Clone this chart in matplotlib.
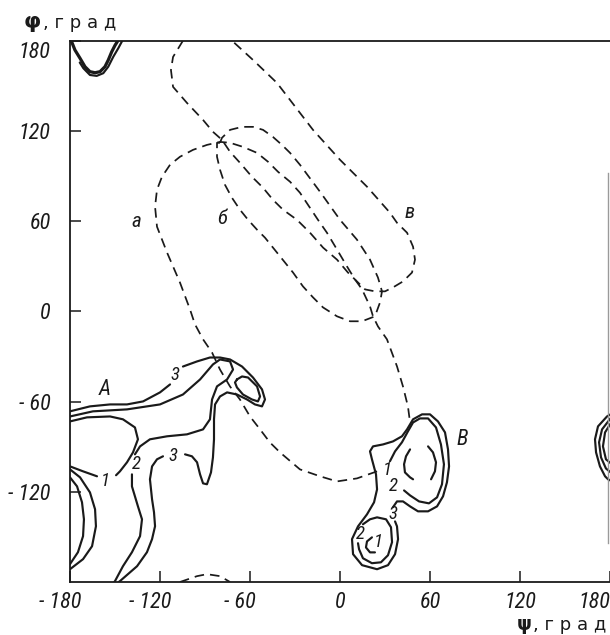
import matplotlib
matplotlib.use("Agg")
import matplotlib.pyplot as plt
from matplotlib import font_manager
from matplotlib.transforms import ScaledTranslation

# pick a condensed family that really has an italic face
_ital = {}
for f in font_manager.fontManager.ttflist:
    if f.style in ('italic', 'oblique'):
        _ital.setdefault(f.name, []).append((f.stretch, f.fname))
NARROW = ['DejaVu Sans']
for cand in ['Liberation Sans Narrow', 'DejaVu Sans Condensed', 'Roboto Condensed', 'Open Sans Condensed']:
    if cand in _ital:
        NARROW = [cand, 'DejaVu Sans']
        break

# ---------------- data (degrees) ----------------
tick_values = [-180, -120, -60, 0, 60, 120, 180]
x_tick_labels = ['- 180', '- 120', '- 60', '0', '60', '120', '180']
y_tick_values = [-120, -60, 0, 60, 120, 180]
y_tick_labels = ['- 120', '- 60', '0', '60', '120', '180']

# dashed loop "в"
loop_v_phi = [-104.7, -111.3, -112.7, -111.3, -102, -91.3, -84.7, -78.7, -73.3, -66.7, -58.7, -51.3, -44.7, -38,
              -28.7, -20, -11.3, -2, 5.3, 11.3, 16.7, 23.3, 30, 35.3, 42, 48, 50, 48.7, 44.7, 38, 33.3, 18, 0,
              -18, -26.7, -42, -58, -72]
loop_v_psi = [180, 169.2, 160.5, 149.3, 138.6, 127.3, 119.4, 114.1, 106.1, 98.8, 89.5, 82.2, 74.2, 67.6,
              60.9, 52.3, 42.4, 34.4, 25.8, 19.9, 14.6, 13.3, 13.3, 15.9, 19.9, 25.8, 34.4, 43, 52.3, 58.9, 65.6,
              82.9, 100.8, 120.7, 132, 151.9, 167.2, 180]
loop_v_wrap_phi = [-106.7, -95.3, -88.7, -80, -73.3]
loop_v_wrap_psi = [-180, -176.1, -174.8, -176.1, -180]

# dashed loop "б"
loop_b_phi = [-80, -78.7, -73.3, -65.3, -58, -51.3, -44.7, -38.7, -33.3, -26.7, -13.3, 0, 11.3, 20, 25.3, 28,
              26.7, 23.3, 14.7, 6.7, -2, -11.3, -18, -24.7, -31.3, -50, -55.3, -61.3, -66.7, -72, -76.7, -80,
              -82, -82, -80]
loop_b_psi = [112.1, 115.4, 120.7, 122.7, 122.7, 120.7, 116, 110.7, 105.4, 97.5, 79.5, 60.9, 47.7, 34.4, 22.5,
              13.3, 6, -3.3, -6.6, -6.6, -3.3, 2.6, 9.3, 16.6, 25.8, 49, 54.3, 60.9, 67.6, 75.5, 84.2, 94.2,
              102.8, 112.1, 112.1]

# dashed loop "а"
loop_a_phi = [24.7, 11.3, -2, -13.3, -26.7, -40, -46.7, -53.3, -60, -66.7, -73.3, -80, -85.3, -91.3, -96.7,
              -100, -106.7, -115.3, -122, -123.3, -122, -118.7, -113.3, -106.7, -98, -88.7, -80, -73.3, -64.7,
              -55.3, -48, -41.3, -33.3, -26.7, -14.7, -8.7, -2, 4.7, 10, 14.7, 20, 22, 25.3, 31.3, 38, 42,
              45.3, 46.7]
loop_a_psi = [-106.4, -111.1, -113.1, -109.7, -105.1, -93.8, -87.2, -78.5, -69.9, -58.6, -50, -38.7, -27.4,
              -18.6, -8.6, 1.3, 19.2, 39.1, 56.3, 69.6, 80.9, 89.5, 97.5, 102.8, 107.4, 110.7, 112.7, 112.1,
              109.4, 105.4, 99.5, 92.8, 86.2, 78.9, 60.9, 52.3, 41.1, 29.8, 21.2, 14.6, 3.3, -3.3, -10, -18.6,
              -36.6, -50, -63.3, -73.9]

# region A contours
A3_top_phi = [-180, -166.7, -153.3, -142, -131.3, -120, -113.3]
A3_top_psi = [-66.5, -63.2, -61.9, -61.9, -59.9, -53.9, -48.6]
A3_mid_phi = [-104.7, -95.3, -86.7, -80, -73.3, -65.3, -58, -52, -50, -52, -56.7, -62, -68.7, -75.3, -80,
              -83.3, -84, -84, -84.7, -86, -88.7, -91.3, -93.3, -95.3, -98.7, -103.3]
A3_mid_psi = [-36.7, -33.3, -30.7, -30.7, -32, -36.7, -44, -51.9, -58.6, -63.2, -61.9, -58.6, -55.3, -53.9,
              -56.6, -61.9, -71.8, -85.1, -97.1, -107.1, -115, -114.4, -108.4, -100.4, -96.4, -95.1]
A3_low_phi = [-118, -122, -125.3, -126.7, -125.3, -124, -123.3, -125.3, -128.7, -135.3, -146.7, -147.5]
A3_low_psi = [-96.4, -98.4, -103.1, -111.7, -125, -133.6, -142.9, -151.5, -160.2, -169.5, -179.4, -180]
A3_wrap_phi = [-173.5, -171.1, -166.7, -162.2, -157.8, -154.5, -151.1, -147.8, -145.5, -145]
A3_wrap_psi = [165.5, 161.7, 157.2, 156.6, 158.4, 162.7, 169.4, 175, 179.3, 180]

A2_top_phi = [-180, -164.7, -142, -120, -104.7, -93.3, -84.7, -80, -73.3, -71.3, -75.3, -82, -85.3, -86.7,
              -91.3, -102, -115.3, -126.7, -133.3, -136.7]
A2_top_psi = [-69.9, -66.5, -65.2, -61.9, -55.3, -45.3, -35.3, -32, -33.3, -38.7, -45.3, -49.9, -58.6, -71.8,
              -78.5, -81.8, -83.1, -85.1, -89.8, -95.1]
A2_low_phi = [-138.7, -138.7, -134.7, -132, -133.3, -138.7, -144.7, -150, -150.5]
A2_low_psi = [-108.4, -116.4, -129.7, -138.3, -149.5, -160.2, -169.5, -179.4, -180]
A2_wrap_phi = [-180, -178.9, -176.7, -173.3, -170, -166.7, -163.3, -160, -156.7, -154.5, -152.2, -150, -148.5,
               -148.2]
A2_wrap_psi = [180, 179.3, 173.8, 168.3, 162.7, 159.4, 158.7, 159.4, 162.7, 167.1, 172.6, 176.9, 179.3, 180]

A1_right_phi = [-180, -168.7, -153.3, -144.7, -136.7, -134.7, -138, -142, -146.7, -149.3]
A1_right_psi = [-73.2, -70.5, -69.9, -71.8, -77.2, -85.1, -93.8, -100.4, -106.4, -109]
A1_left_phi = [-162, -171.3, -180]
A1_left_psi = [-109.7, -106.4, -103.1]

A_curl_phi = [-68.7, -65.3, -61.3, -55.3, -53.3, -54.7, -58.7, -64.7, -68.7, -70, -68.7]
A_curl_psi = [-45.3, -43.3, -44, -49.9, -56.6, -59.9, -58.6, -55.3, -50.6, -47.3, -45.3]

edge_outer_phi = [-180, -173.3, -166.7, -163.3, -162.7, -165.3, -171.3, -180]
edge_outer_psi = [-105.1, -110.4, -120.4, -131.6, -142.9, -156.2, -164.8, -171.5]
edge_inner_phi = [-180, -175.3, -172, -170.7, -171.3, -174.7, -180]
edge_inner_psi = [-110.4, -116.4, -127, -138.3, -149.5, -160.2, -168.1]

# region B contours
B3_phi = [36.7, 38, 38.7, 36.7, 32, 24.7, 14.7, 8.7, 8, 12, 18, 22.7, 24.7, 24, 21.3, 20, 22, 28.7, 35.3,
          41.3, 44.7, 48.7, 54.7, 60, 65.3, 70, 72, 72.7, 71.3, 68.7, 64.7, 58.7, 52, 46.7, 42, 38, 35.3]
B3_psi = [-139.7, -143, -151.5, -161.5, -168.8, -171.5, -168.8, -161.5, -151.5, -143, -135, -127, -118.4,
          -108.4, -98.4, -93.1, -89.8, -88.5, -86.5, -83.1, -78.5, -71.8, -68.5, -68.5, -73.2, -80.5, -91.8,
          -103.1, -113.7, -123, -129.7, -133, -133, -129.7, -126.4, -126.4, -130.3]
B2_up_phi = [33.3, 36.7, 41.3, 45.3, 48.7, 53.3, 58.7, 64, 67.3, 69.3, 68, 64.7, 59.3, 52.7, 46.7, 42.7]
B2_up_psi = [-99.7, -93.1, -87.1, -79.8, -73.9, -71.2, -71.2, -77.2, -88.5, -101.7, -115, -123.7, -127.7,
             -126.4, -122.4, -119.1]
B1_up_left_phi = [46.7, 44, 42.7, 43.3, 46.7, 48.7]
B1_up_left_psi = [-91.8, -96.4, -101.7, -107.1, -110.4, -111.7]
B1_up_right_phi = [58.7, 62, 64, 63.3, 60.7]
B1_up_right_psi = [-89.8, -93.8, -100.4, -106.4, -111.7]
B2_low_phi = [15.3, 20, 24.7, 30.7, 34, 34.7, 32, 27.3, 21.3, 15.3, 12.7, 12]
B2_low_psi = [-141.6, -138.3, -137, -138.3, -143.6, -153.5, -162.2, -166.9, -167.5, -164.2, -158.2, -154.2]
B1_low_phi = [21.3, 18, 17.3, 20, 23.3]
B1_low_psi = [-150.3, -153, -157, -160.3, -160.3]

# right edge (phi ~ 180) contours
R1_phi = [181.3, 178, 172, 170, 170.7, 173.3, 176.7, 178.7, 181.3]
R1_psi = [-67.9, -69.9, -76.5, -85.1, -93.8, -103.1, -109.7, -111.7, -113]
R2_phi = [181.3, 174.7, 172.7, 174, 177.3, 181.3]
R2_psi = [-69.9, -78.5, -87.1, -97.1, -104.5, -107.8]
R3_phi = [181.3, 176.7, 175.3, 177.3, 181.3]
R3_psi = [-73.2, -80.5, -89.8, -98.4, -101.7]
edge_line_phi = [178.7, 178.7]
edge_line_psi = [92, -154]

# text labels
loop_labels = ['а', 'б', 'в']
loop_label_phi = [-135.5, -78.5, 46.5]
loop_label_psi = [59.5, 62, 66]
region_labels = ['А', 'В']
region_label_phi = [-157, 81.5]
region_label_psi = [-52, -85]
level_labels = ['3', '3', '2', '1', '1', '2', '3', '2', '1']
level_label_phi = [-110, -111.3, -136, -156.7, 31.3, 35.3, 35.3, 13.3, 25.3]
level_label_psi = [-42, -96.4, -101.7, -113, -105.5, -116.4, -135, -148.3, -153.5]

# ---------------- drawing ----------------
fig = plt.figure(figsize=(6.1, 6.35), dpi=100)
ax = fig.add_axes([70 / 610, 53 / 635, 540 / 610, 541.3 / 635])
ax.set_xlim(-180, 180)
ax.set_ylim(-180, 180)

ink = '#1a1a1a'
solid = dict(color=ink, lw=1.55, solid_capstyle='round', solid_joinstyle='round')
dashed = dict(color=ink, lw=1.25, linestyle=(0, (5.5, 3.5)))

for ph, ps in [(loop_v_phi, loop_v_psi), (loop_v_wrap_phi, loop_v_wrap_psi),
               (loop_b_phi, loop_b_psi), (loop_a_phi, loop_a_psi)]:
    ax.plot(ph, ps, **dashed)

for ph, ps in [(A3_top_phi, A3_top_psi), (A3_mid_phi, A3_mid_psi), (A3_low_phi, A3_low_psi),
               (A3_wrap_phi, A3_wrap_psi), (A2_top_phi, A2_top_psi), (A2_low_phi, A2_low_psi),
               (A1_right_phi, A1_right_psi), (A1_left_phi, A1_left_psi), (A_curl_phi, A_curl_psi),
               (edge_outer_phi, edge_outer_psi), (edge_inner_phi, edge_inner_psi),
               (B3_phi, B3_psi), (B2_up_phi, B2_up_psi), (B1_up_left_phi, B1_up_left_psi),
               (B1_up_right_phi, B1_up_right_psi), (B2_low_phi, B2_low_psi), (B1_low_phi, B1_low_psi),
               (R1_phi, R1_psi), (R2_phi, R2_psi), (R3_phi, R3_psi)]:
    ax.plot(ph, ps, **solid)
ax.plot(A2_wrap_phi, A2_wrap_psi, color=ink, lw=2.3, solid_capstyle='round')
ax.plot(edge_line_phi, edge_line_psi, color='#9a9a9a', lw=1.0)

lab_font = dict(style='italic', color=ink, family=NARROW, ha='center', va='center')
for t, x, y in zip(loop_labels, loop_label_phi, loop_label_psi):
    ax.text(x, y, t, fontsize=15, **lab_font)
for t, x, y in zip(region_labels, region_label_phi, region_label_psi):
    ax.text(x, y, t, fontsize=15.5, **lab_font)
for t, x, y in zip(level_labels, level_label_phi, level_label_psi):
    ax.text(x, y, t, fontsize=13.5, **lab_font)

# axes styling
for side in ['left', 'bottom', 'top']:
    ax.spines[side].set_linewidth(1.3)
    ax.spines[side].set_color(ink)
ax.spines['right'].set_visible(False)

tick_font = dict(fontstyle='italic', family=NARROW, fontsize=16, color=ink)
ax.set_xticks(tick_values)
ax.set_xticklabels(x_tick_labels, **tick_font)
ax.set_yticks(y_tick_values)
ax.set_yticklabels(y_tick_labels, **tick_font)
ax.tick_params(direction='in', length=8, width=1.1, color=ink)
ax.tick_params(axis='x', pad=7)
ax.tick_params(axis='y', pad=14)

# shift negative x labels so the digits centre on the tick
for lab in ax.get_xticklabels():
    txt = lab.get_text()
    if txt.startswith('-'):
        lab.set_transform(lab.get_transform() + ScaledTranslation(-0.1, 0, fig.dpi_scale_trans))
    if txt == '180':
        lab.set_transform(lab.get_transform() + ScaledTranslation(-0.16, 0, fig.dpi_scale_trans))
for lab in ax.get_yticklabels():
    if lab.get_text() == '180':
        lab.set_transform(lab.get_transform() + ScaledTranslation(0, -0.09, fig.dpi_scale_trans))

# axis titles (bold Greek letter + units)
fig.text(24 / 610, 1 - 28 / 635, 'φ', fontsize=16, fontweight='bold', color=ink, ha='left',
         va='baseline', family=['DejaVu Sans'])
fig.text(43 / 610, 1 - 28 / 635, ', г р а д', fontsize=13, color=ink, ha='left', va='baseline',
         family=['DejaVu Sans'])
fig.text(517 / 610, 1 - 630 / 635, 'ψ', fontsize=13.5, fontweight='bold', color=ink, ha='left',
         va='baseline', family=['DejaVu Sans'])
fig.text(533 / 610, 1 - 630 / 635, ', г р а д', fontsize=13, color=ink, ha='left', va='baseline',
         family=['DejaVu Sans'])

fig.savefig('out.png', dpi=100)
